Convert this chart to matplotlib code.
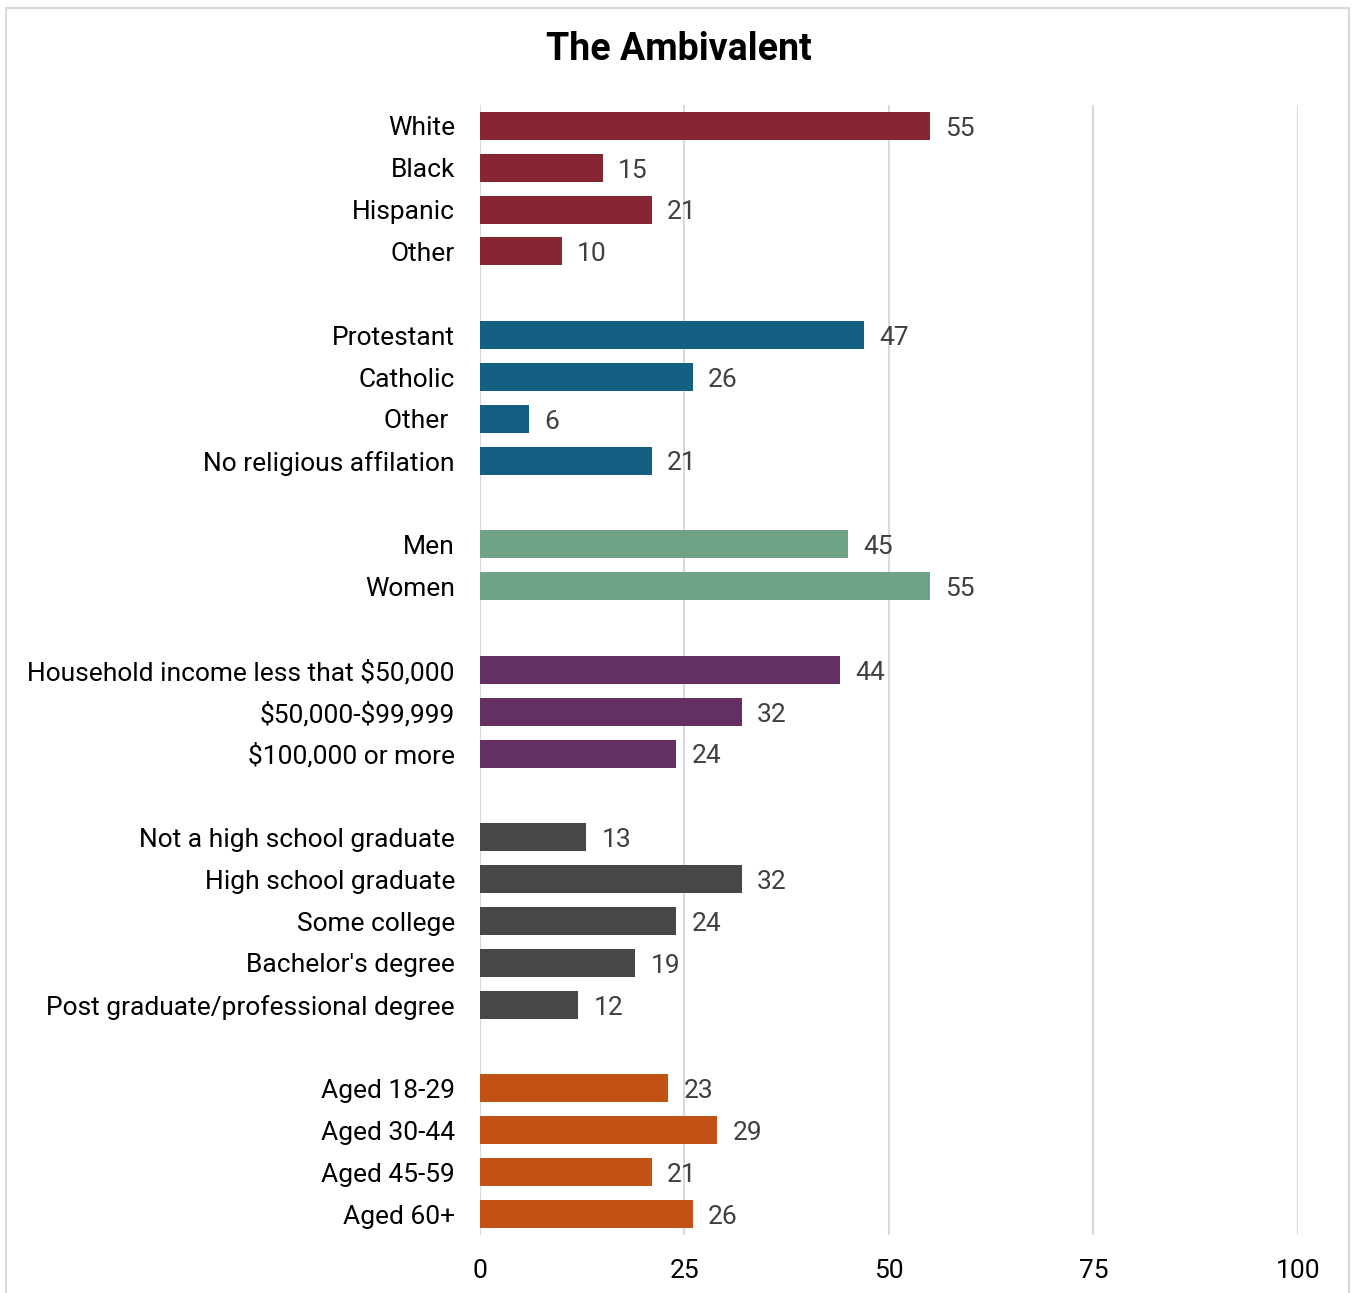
import matplotlib as mpl
import matplotlib.pyplot as plt
from matplotlib.patches import Rectangle

mpl.use('Agg')
plt.rcParams['font.family'] = ['Roboto', 'DejaVu Sans']
plt.rcParams['text.parse_math'] = False

# groups of categories with values (percent)
race_labels = ['White', 'Black', 'Hispanic', 'Other']
race_values = [55, 15, 21, 10]
religion_labels = ['Protestant', 'Catholic', 'Other ', 'No religious affilation']
religion_values = [47, 26, 6, 21]
gender_labels = ['Men', 'Women']
gender_values = [45, 55]
income_labels = ['Household income less that $50,000', '$50,000-$99,999', '$100,000 or more']
income_values = [44, 32, 24]
edu_labels = ['Not a high school graduate', 'High school graduate', 'Some college',
              "Bachelor's degree", 'Post graduate/professional degree']
edu_values = [13, 32, 24, 19, 12]
age_labels = ['Aged 18-29', 'Aged 30-44', 'Aged 45-59', 'Aged 60+']
age_values = [23, 29, 21, 26]

groups = [
    (race_labels, race_values, '#862633'),
    (religion_labels, religion_values, '#155F83'),
    (gender_labels, gender_values, '#6FA287'),
    (income_labels, income_values, '#642F63'),
    (edu_labels, edu_values, '#474747'),
    (age_labels, age_values, '#C25115'),
]
xticks = [0, 25, 50, 75, 100]

fig = plt.figure(figsize=(13.52, 12.93), dpi=100)
ax = fig.add_axes([0.355, 0.0449, 0.605, 0.8739])

ypos, ylabels = [], []
row = 0
for labels, values, color in groups:
    ys = list(range(row, row + len(labels)))
    ax.barh(ys, values, height=0.67, color=color, zorder=3)
    for y, v in zip(ys, values):
        ax.annotate(str(v), (v, y), xytext=(11, -2), textcoords='offset points',
                    ha='left', va='center', fontsize=19, color='#404040')
    ypos += ys
    ylabels += labels
    row += len(labels) + 1

ax.set_ylim(row - 1.5, -0.5)
ax.set_xlim(0, 100)
ax.set_yticks(ypos)
ax.set_yticklabels(ylabels, fontsize=19, color='black')
ax.set_xticks(xticks)
ax.set_xticklabels([str(t) for t in xticks], fontsize=19, color='black')
ax.tick_params(axis='y', length=0, pad=18)
ax.tick_params(axis='x', length=0, pad=17)
ax.grid(axis='x', color='#D9D9D9', linewidth=1.5, zorder=0)
for s in ax.spines.values():
    s.set_visible(False)

fig.text(0.502, 0.9615, 'The Ambivalent', ha='center', va='center',
         fontsize=27, fontweight='bold')
fig.patches.append(Rectangle((0.0045, -0.01), 0.993, 1.004, transform=fig.transFigure,
                             fill=False, edgecolor='#D9D9D9', linewidth=1.5))

fig.savefig('out.png')
